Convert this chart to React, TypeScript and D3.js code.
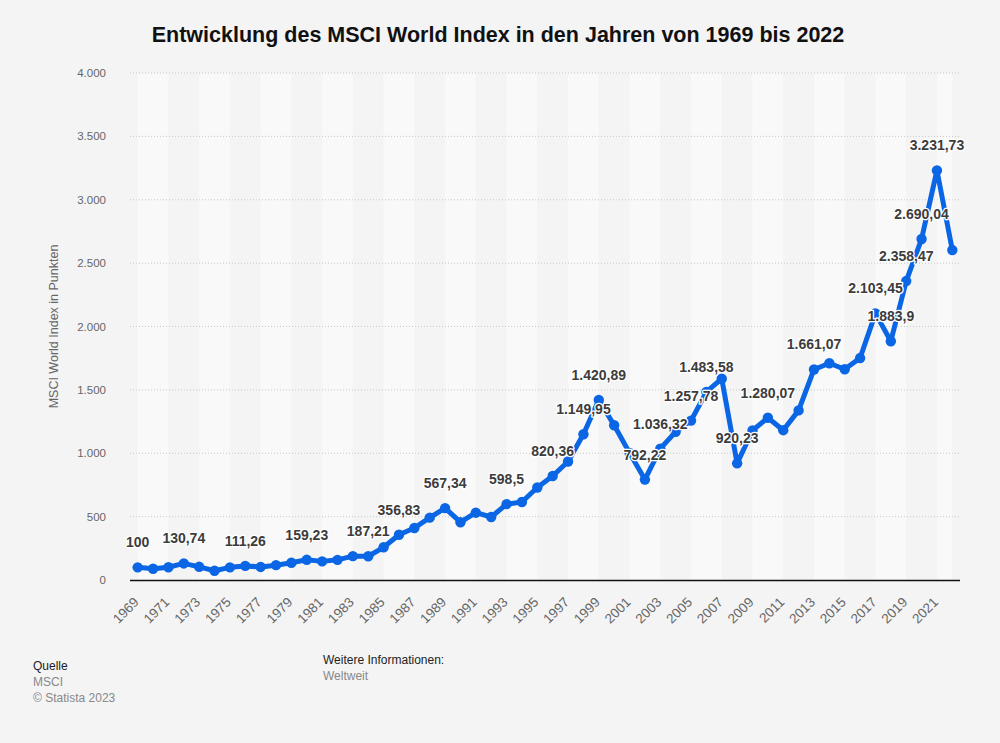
import React from "react";
import * as d3 from "d3";

const years = [
  "1969","1970","1971","1972","1973","1974","1975","1976","1977","1978",
  "1979","1980","1981","1982","1983","1984","1985","1986","1987","1988",
  "1989","1990","1991","1992","1993","1994","1995","1996","1997","1998",
  "1999","2000","2001","2002","2003","2004","2005","2006","2007","2008",
  "2009","2010","2011","2012","2013","2014","2015","2016","2017","2018",
  "2019","2020","2021","2022",
];

const values = [
  100, 89, 101, 130.74, 104, 73, 100, 111.26, 103, 117,
  136, 159.23, 147, 159, 188, 187.21, 258, 356.83, 410, 492,
  567.34, 456, 531, 497, 598.5, 615, 730, 820.36, 935, 1149.95,
  1420.89, 1221, 1003, 792.22, 1036.32, 1169, 1257.78, 1483.58, 1588, 920.23,
  1180, 1280.07, 1182, 1338, 1661.07, 1710, 1663, 1751, 2103.45, 1883.9,
  2358.47, 2690.04, 3231.73, 2603,
];

const labeledYears = [
  "1969","1972","1976","1980","1984","1986","1989","1993","1996","1998",
  "1999","2002","2003","2005","2006","2008","2010","2013","2017","2018",
  "2019","2020","2021",
];

const yTicks = [0, 500, 1000, 1500, 2000, 2500, 3000, 3500, 4000];

const title = "Entwicklung des MSCI World Index in den Jahren von 1969 bis 2022";
const yTitle = "MSCI World Index in Punkten";

const de = d3.formatLocale({ decimal: ",", thousands: ".", grouping: [3], currency: ["", " €"] });
const fmt = de.format(",");

const W = 1000;
const H = 743;
const left = 130;
const right = 960;
const top = 73;
const bottom = 580;

export default function App() {
  const x = d3.scaleBand<string>().domain(years).range([left, right]).padding(0);
  const cx = (yr: string) => (x(yr) as number) + x.bandwidth() / 2;
  const y = d3.scaleLinear().domain([0, 4000]).range([bottom, top]);

  const data = years.map((yr, i) => ({ yr, v: values[i] }));
  const line = d3
    .line<{ yr: string; v: number }>()
    .x((d) => cx(d.yr))
    .y((d) => y(d.v));

  const stripes: { x0: number; x1: number; light: boolean }[] = [];
  for (let i = 0; i < years.length - 1; i += 2) {
    const j = Math.min(i + 2, years.length - 1);
    stripes.push({ x0: cx(years[i]), x1: cx(years[j]), light: (i / 2) % 2 === 0 });
  }

  const tickYears = years.filter((_, i) => i % 2 === 0);
  const font = "'Liberation Sans', Arial, Helvetica, sans-serif";

  return (
    <svg
      width={W}
      height={H}
      style={{ position: "absolute", left: 0, top: 0, display: "block" }}
      fontFamily={font}
    >
      <rect x={0} y={0} width={W} height={H} fill="#f4f4f4" />
      <text x={498} y={42} textAnchor="middle" fontSize={21.5} fontWeight="bold" fill="#111">
        {title}
      </text>

      {stripes.map((s, i) => (
        <rect key={i} x={s.x0} y={top} width={s.x1 - s.x0} height={bottom - top} fill={s.light ? "#f9f9f9" : "#f4f4f4"} />
      ))}

      {yTicks.map((t) => (
        <g key={t}>
          {t > 0 && (
            <line x1={left} x2={right} y1={y(t)} y2={y(t)} stroke="#c8c8c8" strokeWidth={1} strokeDasharray="1,2" />
          )}
          <text x={106} y={y(t) + 4} textAnchor="end" fontSize={11.5} fill="#666">
            {fmt(t)}
          </text>
        </g>
      ))}

      <line x1={left} x2={right} y1={bottom + 0.5} y2={bottom + 0.5} stroke="#111" strokeWidth={1.5} />

      <text
        transform={`translate(58,${(top + bottom) / 2}) rotate(-90)`}
        textAnchor="middle"
        fontSize={12.5}
        fill="#666"
      >
        {yTitle}
      </text>

      {tickYears.map((yr) => (
        <text
          key={yr}
          transform={`translate(${cx(yr) + 2},${bottom + 23}) rotate(-45)`}
          textAnchor="end"
          fontSize={13.5}
          fill="#666"
        >
          {yr}
        </text>
      ))}

      <path d={line(data) || ""} fill="none" stroke="#0a66e4" strokeWidth={5} strokeLinejoin="round" strokeLinecap="round" />
      {data.map((d) => (
        <circle key={d.yr} cx={cx(d.yr)} cy={y(d.v)} r={5.2} fill="#0a66e4" />
      ))}

      {data
        .filter((d) => labeledYears.includes(d.yr))
        .map((d) => (
          <text
            key={d.yr}
            x={cx(d.yr)}
            y={y(d.v) - 20}
            textAnchor="middle"
            fontSize={14}
            fontWeight="bold"
            fill="#3c3c3c"
            stroke="#ffffff"
            strokeWidth={2.5}
            strokeLinejoin="round"
            paintOrder="stroke"
          >
            {fmt(d.v)}
          </text>
        ))}

      <text x={33} y={670} fontSize={12} fill="#222">Quelle</text>
      <text x={33} y={686} fontSize={12} fill="#888">MSCI</text>
      <text x={33} y={702} fontSize={12} fill="#888">© Statista 2023</text>
      <text x={323} y={664} fontSize={12} fill="#222">Weitere Informationen:</text>
      <text x={323} y={680} fontSize={12} fill="#888">Weltweit</text>
    </svg>
  );
}
